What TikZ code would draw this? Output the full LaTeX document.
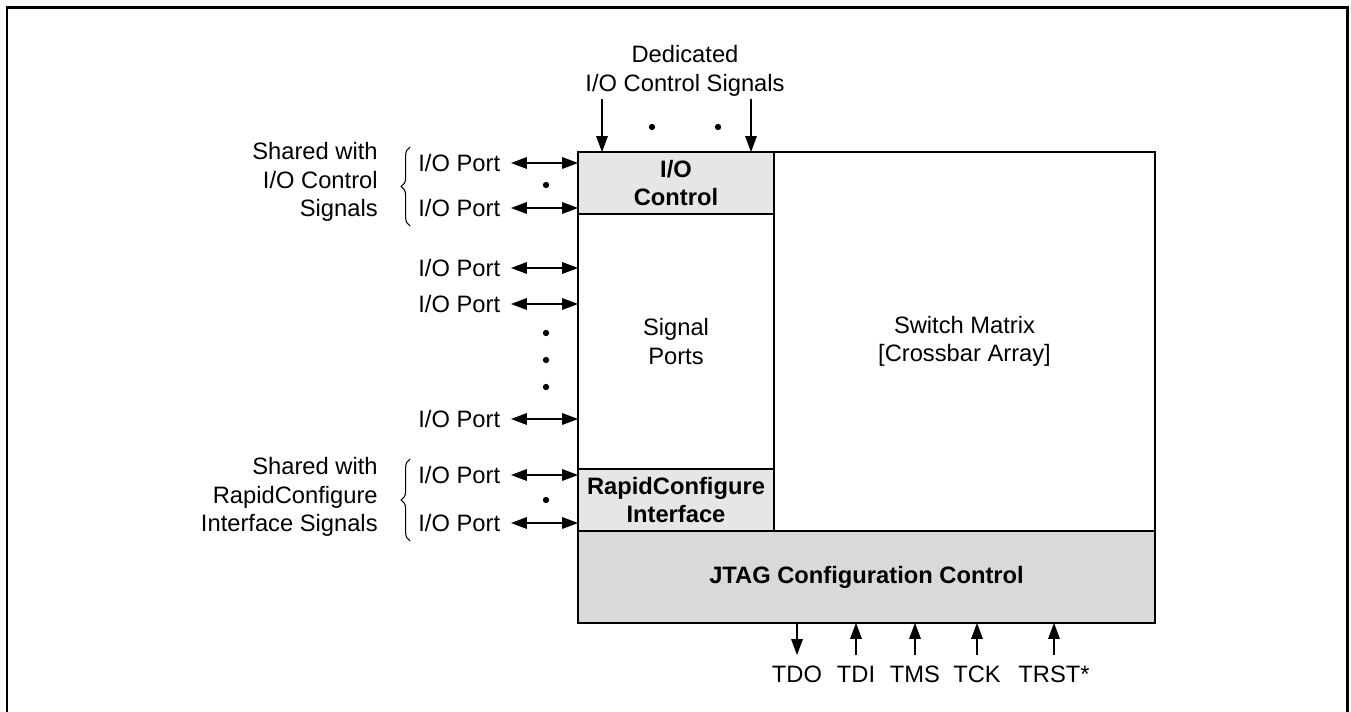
\documentclass[tikz,border=0pt]{standalone}
\usepackage{fontspec}
\setmainfont{Liberation Sans}
\usetikzlibrary{arrows.meta,decorations.pathreplacing}

\newcommand{\diagfont}{\fontsize{13.5}{16.2}\selectfont}
\definecolor{litegray}{RGB}{230,230,230}
\definecolor{jtaggray}{RGB}{217,217,217}

\tikzset{
	blockbox/.style={draw,line width=1.1pt,inner sep=0pt,outer sep=0pt,align=center,font=\diagfont},
	portlbl/.style={anchor=east,inner sep=0pt,outer xsep=6.2pt,font=\diagfont},
	pinlbl/.style={anchor=north,inner sep=0pt,outer ysep=6pt,text height=9.8pt,text depth=0pt,font=\diagfont},
	sig/.style={line width=0.6pt,-{Triangle[length=9pt,width=6.6pt]}},
	bisig/.style={line width=0.6pt,{Triangle[length=9pt,width=6.6pt]}-{Triangle[length=9pt,width=6.6pt]}},
	dotmark/.style={circle,fill,inner sep=0pt,minimum size=3.6pt},
	bracemark/.style={decorate,decoration={brace,amplitude=5pt},line width=0.6pt}
}

\begin{document}
\begin{tikzpicture}[x=0.02cm,y=-0.02cm]
	\useasboundingbox (0,0) rectangle (1351,712);
	% outer frame
	\draw[line width=1.7pt] (7,730) -- (7,8) -- (1347,8) -- (1347,730);

	% blocks
	\node[blockbox,fill=litegray,minimum width=3.92cm,minimum height=1.24cm,font=\diagfont\bfseries] (ioctl) at (676,183) {I/O\\Control};
	\node[blockbox,minimum width=3.92cm,minimum height=5.1cm] (sigports) at (676,341.5) {Signal\\Ports};
	\node[blockbox,fill=litegray,minimum width=3.92cm,minimum height=1.24cm,font=\diagfont\bfseries] (rapid) at (676,500) {RapidConfigure\\Interface};
	\node[blockbox,minimum width=7.62cm,minimum height=7.58cm] (swmatrix) at (964.5,341.5) {Switch Matrix\\{[Crossbar Array]}};
	\node[blockbox,fill=jtaggray,minimum width=11.54cm,minimum height=1.84cm,font=\diagfont\bfseries] (jtag) at (866.5,577) {JTAG Configuration Control};

	% dedicated control inputs
	\node[align=center,font=\diagfont] (ded) at (685,71) {Dedicated\\I/O Control Signals};
	\coordinate (D1) at (602,99);
	\coordinate (D2) at (751,99);
	\draw[sig] (D1) -- (D1 |- ioctl.north);
	\draw[sig] (D2) -- (D2 |- ioctl.north);
	\node[dotmark] (dd1) at (652,127) {};
	\node[dotmark] (dd2) at (718,127) {};

	% I/O ports
	\foreach \y/\n in {163/P1,208/P2,268/P3,304/P4,419/P5,475/P6,523/P7}{
		\node[portlbl] (\n) at (511,\y) {I/O Port};
		\draw[bisig] (\n.east) -- (\n.east -| ioctl.west);
	}
	\foreach \y/\n in {185/pd1,333/pd2,360/pd3,387/pd4,500/pd5}
		\node[dotmark] (\n) at (546,\y) {};

	% shared groups
	\draw[bracemark] (410,226) -- (410,147);
	\node[anchor=east,align=right,font=\diagfont,inner sep=0pt] (shio) at (378,182) {Shared with\\I/O Control\\Signals};
	\draw[bracemark] (410,541) -- (410,459);
	\node[anchor=east,align=right,font=\diagfont,inner sep=0pt] (shrc) at (378,497) {Shared with\\RapidConfigure\\Interface Signals};

	% JTAG pins
	\node[pinlbl] (tdo) at (797,655) {TDO};
	\node[pinlbl] (tdi) at (856,655) {TDI};
	\node[pinlbl] (tms) at (915,655) {TMS};
	\node[pinlbl] (tck) at (977,655) {TCK};
	\node[pinlbl] (trst) at (1054,655) {TRST*};
	\draw[sig] (jtag.south -| tdo.north) -- (tdo.north);
	\foreach \n in {tdi,tms,tck,trst}
		\draw[sig] (\n.north) -- (jtag.south -| \n.north);
\end{tikzpicture}
\end{document}
